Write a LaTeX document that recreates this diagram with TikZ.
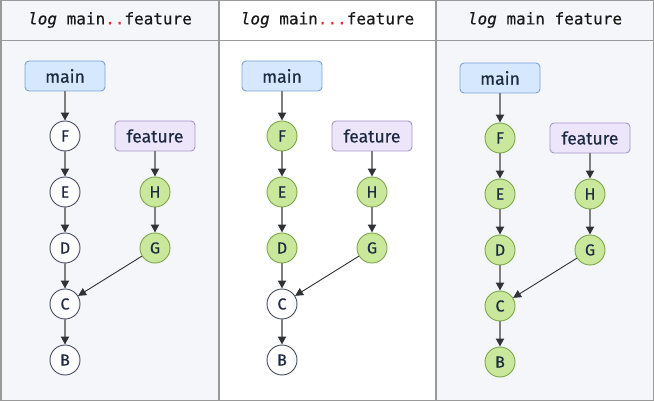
\documentclass[tikz,border=0pt]{standalone}
\usepackage{fontspec}
\setmainfont{Fira Sans}
\setmonofont{DejaVu Sans Mono}[FakeBold=0.3]
\newfontfamily\nodefont{Fira Sans}[FakeBold=0.5]
\usetikzlibrary{arrows.meta,positioning}
\definecolor{PanelGray}{HTML}{F5F6FA}
\definecolor{FrameGray}{HTML}{999999}
\definecolor{InkNavy}{HTML}{1E2A44}
\definecolor{MainFill}{HTML}{D5E8FD}
\definecolor{MainDraw}{HTML}{7AA3D6}
\definecolor{FeatFill}{HTML}{EDE6FA}
\definecolor{FeatDraw}{HTML}{A596C8}
\definecolor{HitFill}{HTML}{C9E89B}
\definecolor{HitDraw}{HTML}{7BA648}
\definecolor{DotRed}{HTML}{E02B2B}
\definecolor{EdgeGray}{HTML}{808080}
\definecolor{TipDark}{HTML}{2F3236}
\begin{document}
\begin{tikzpicture}[
  x=1pt, y=-1pt,
  commit/.style={circle, draw=InkNavy!85, fill=white, minimum size=30pt, inner sep=0pt, line width=0.9pt, text=InkNavy, font=\nodefont\fontsize{16}{16}\selectfont},
  commithit/.style={commit, draw=HitDraw, fill=HitFill},
  branch/.style={rounded corners=4pt, minimum width=80pt, minimum height=30pt, inner sep=0pt, line width=0.9pt, text=InkNavy, font=\nodefont\fontsize{17.5}{17.5}\selectfont},
  mainref/.style={branch, draw=MainDraw, fill=MainFill},
  featref/.style={branch, draw=FeatDraw, fill=FeatFill},
  parent/.style={-{Triangle[length=8pt,width=8pt,color=TipDark]}, EdgeGray, line width=1.8pt},
  mergeparent/.style={-{Triangle[length=8pt,width=8pt]}, TipDark, line width=0.9pt},
  title/.style={text=black!90, font=\ttfamily\fontsize{16}{16}\selectfont}
]
\useasboundingbox (0,0) rectangle (654,401);

% Panels
\fill[PanelGray] (0,0) rectangle (219,401);
\fill[white] (219,0) rectangle (436,401);
\fill[PanelGray] (436,0) rectangle (654,401);
\draw[FrameGray, line width=1.2pt] (219,0) -- (219,401) (436,0) -- (436,401) (0,40.5) -- (654,40.5);
\draw[FrameGray, line width=1.5pt] (0.75,0.75) rectangle (653.25,400.25);

% Titles
\node[title] (title1) at (110,20) {\textit{log} main\textcolor{DotRed}{..}feature};
\node[title] (title2) at (327.5,20) {\textit{log} main\textcolor{DotRed}{...}feature};
\node[title] (title3) at (545,20) {\textit{log} main feature};

% Commit graphs
\foreach \p/\cx/\cy/\topstyle/\basestyle in {1/65/0/commit/commit, 2/282/0/commithit/commit, 3/500/2/commithit/commithit} {
  \node[mainref] (main\p) at (\cx,76+\cy) {main};
  \node[featref] (feat\p) at (\cx+90,136+\cy) {feature};
  \foreach \id/\y in {F/136, E/192, D/248} {
    \node[\topstyle] (\id\p) at (\cx,\y+\cy) {\id};
  }
  \foreach \id/\y in {C/304, B/360} {
    \node[\basestyle] (\id\p) at (\cx,\y+\cy) {\id};
  }
  \foreach \id/\y in {H/192, G/248} {
    \node[commithit] (\id\p) at (\cx+90,\y+\cy) {\id};
  }
  \draw[parent] (main\p) -- (F\p);
  \draw[parent] (F\p) -- (E\p);
  \draw[parent] (E\p) -- (D\p);
  \draw[parent] (D\p) -- (C\p);
  \draw[parent] (C\p) -- (B\p);
  \draw[parent] (feat\p) -- (H\p);
  \draw[parent] (H\p) -- (G\p);
  \draw[mergeparent] (G\p) -- (C\p);
}

\end{tikzpicture}
\end{document}
